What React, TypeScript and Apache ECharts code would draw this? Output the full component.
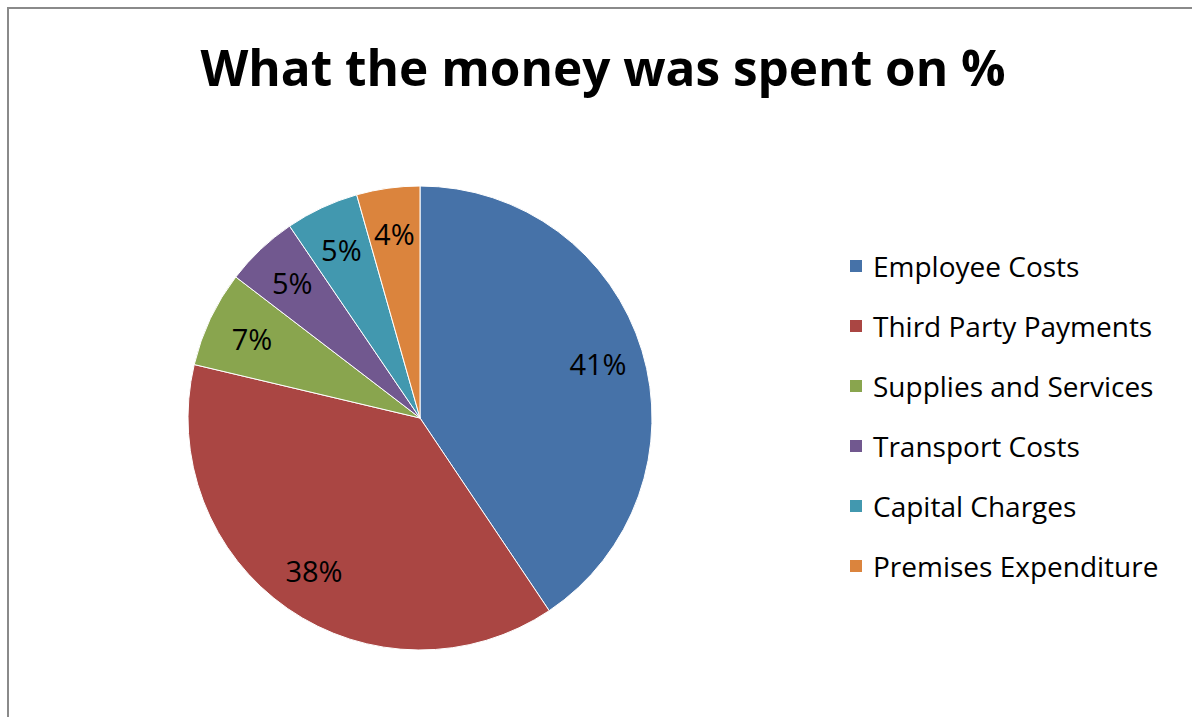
import React, { useEffect, useRef } from "react";
import * as echarts from "echarts";

const TITLE = "What the money was spent on %";
const categories = [
  "Employee Costs",
  "Third Party Payments",
  "Supplies and Services",
  "Transport Costs",
  "Capital Charges",
  "Premises Expenditure",
];
const values = [40.6, 38.1, 6.7, 5.1, 5.1, 4.4];
const colors = ["#4672A8", "#AA4643", "#89A54E", "#71588F", "#4298AF", "#DB843D"];

const FONT = "'Open Sans', sans-serif";

export default function App() {
  const ref = useRef<HTMLDivElement>(null);
  useEffect(() => {
    if (!ref.current) return;
    const chart = echarts.init(ref.current, undefined, { renderer: "svg" });
    const data = categories.map((name, i) => ({ name, value: values[i], itemStyle: { color: colors[i] } }));
    chart.setOption({
      animation: false,
      backgroundColor: "#ffffff",
      title: {
        text: TITLE,
        left: 603,
        textAlign: "center",
        top: 42,
        padding: 0,
        textStyle: { fontFamily: FONT, fontWeight: "bold", fontSize: 49.5, color: "#000" },
      },
      legend: {
        orient: "vertical",
        left: 848,
        top: 252,
        padding: 0,
        itemWidth: 14,
        itemHeight: 14,
        itemGap: 32,
        icon: "rect",
        data: categories,
        textStyle: { fontFamily: FONT, fontSize: 28, color: "#000", lineHeight: 28, padding: [0, 0, 0, 5] },
      },
      graphic: [
        {
          type: "polyline",
          shape: { points: [[8, 717], [8, 8], [1192, 8]] },
          style: { stroke: "#8a8a8a", lineWidth: 2, fill: "none" },
          silent: true,
        },
      ],
      series: [
        {
          type: "pie",
          center: [420, 418],
          radius: [0, 232],
          startAngle: 90,
          clockwise: true,
          data,
          label: { show: false },
          labelLine: { show: false },
          itemStyle: { borderColor: "#ffffff", borderWidth: 1 },
          silent: true,
        },
        {
          type: "pie",
          center: [420, 418],
          radius: [134, 232],
          startAngle: 90,
          clockwise: true,
          data: categories.map((name, i) => ({ name, value: values[i] })),
          itemStyle: { color: "rgba(0,0,0,0)" },
          label: {
            show: true,
            position: "inside",
            formatter: (p: any) => Math.round(p.value) + "%",
            fontFamily: FONT,
            fontSize: 29,
            color: "#000",
          },
          labelLine: { show: false },
          silent: true,
        },
      ],
    });
    return () => chart.dispose();
  }, []);
  return <div ref={ref} style={{ position: "absolute", left: 0, top: 0, width: 1192, height: 717 }} />;
}
